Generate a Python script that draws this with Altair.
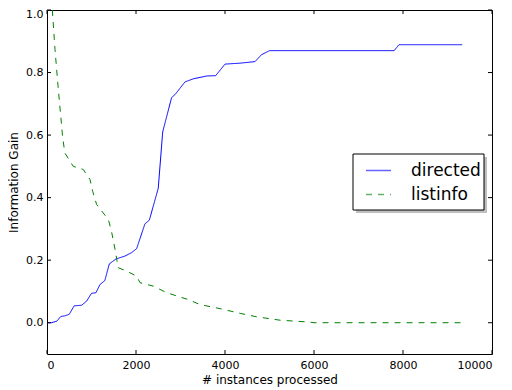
import altair as alt
import pandas as pd

directed_x = [0, 100, 220, 310, 400, 500, 610, 780, 890, 1000, 1100, 1190, 1300, 1400, 1550,
              1750, 1900, 2015, 2200, 2300, 2500, 2600, 2800, 2880, 3100, 3290, 3590, 3790,
              4000, 4340, 4675, 4820, 5000, 7800, 7910, 9330]
directed_y = [0.0, 0.0, 0.005, 0.02, 0.022, 0.027, 0.054, 0.056, 0.069, 0.094, 0.096, 0.122,
              0.135, 0.188, 0.204, 0.213, 0.224, 0.237, 0.316, 0.328, 0.43, 0.61, 0.72, 0.73,
              0.77, 0.78, 0.789, 0.79, 0.827, 0.83, 0.835, 0.857, 0.87, 0.87, 0.889, 0.889]

listinfo_x = [120, 180, 255, 350, 400, 590, 815, 966, 1027, 1115, 1230, 1380, 1455, 1530,
              1600, 1790, 2015, 2090, 2390, 2690, 3175, 3440, 3890, 4340, 4710, 5240, 5910,
              6000, 9330]
listinfo_y = [1.0, 0.873, 0.745, 0.596, 0.543, 0.50, 0.49, 0.458, 0.42, 0.378, 0.357, 0.33,
              0.288, 0.234, 0.176, 0.165, 0.149, 0.128, 0.117, 0.096, 0.074, 0.058, 0.045,
              0.03, 0.019, 0.008, 0.002, 0.0, 0.0]

series_names = ["directed", "listinfo"]
x_ticks = [0, 2000, 4000, 6000, 8000, 10000]
y_ticks = [0.0, 0.2, 0.4, 0.6, 0.8, 1.0]

W, H = 445, 344

df = pd.concat([
    pd.DataFrame({"x": directed_x, "y": directed_y, "series": series_names[0]}),
    pd.DataFrame({"x": listinfo_x, "y": listinfo_y, "series": series_names[1]}),
])

xscale = alt.Scale(domain=[0, 10000], nice=False, zero=False)
yscale = alt.Scale(domain=[-0.1, 1.0], nice=False, zero=False)

legend_kw = dict(title=None, orient="none", legendX=318, legendY=147,
                 symbolType="stroke", symbolSize=625, symbolStrokeWidth=1.5,
                 labelFontSize=17, labelFont="DejaVu Sans", labelColor="black",
                 padding=0, rowPadding=2, labelOffset=19, symbolOpacity=0.6)

lines = alt.Chart(df).mark_line(strokeWidth=1, clip=True).encode(
    x=alt.X("x:Q", scale=xscale,
            axis=alt.Axis(title="# instances processed", values=x_ticks, format="d",
                          grid=False, domain=False, ticks=False, labelPadding=5,
                          labelFontSize=11, titleFontSize=12, titleFontWeight="normal",
                          titlePadding=4, labelColor="black", titleColor="black",
                          labelFont="DejaVu Sans", titleFont="DejaVu Sans")),
    y=alt.Y("y:Q", scale=yscale,
            axis=alt.Axis(title="Information Gain", values=y_ticks, format=".1f",
                          grid=False, domain=False, ticks=False, labelPadding=4,
                          labelFlush=True, labelFlushOffset=2,
                          labelFontSize=11, titleFontSize=12, titleFontWeight="normal",
                          titlePadding=5, labelColor="black", titleColor="black",
                          labelFont="DejaVu Sans", titleFont="DejaVu Sans")),
    color=alt.Color("series:N", scale=alt.Scale(domain=series_names, range=["#0000ff", "#008000"]),
                    legend=alt.Legend(**legend_kw)),
    strokeDash=alt.StrokeDash("series:N",
                              scale=alt.Scale(domain=series_names, range=[[1, 0], [6, 6]]),
                              legend=alt.Legend(**legend_kw)),
)

xt = pd.DataFrame({"t": x_ticks})
yt = pd.DataFrame({"t": y_ticks})

xtick_top = alt.Chart(xt).mark_rule(color="black", strokeWidth=1).encode(
    x=alt.X("t:Q", scale=xscale), y=alt.value(0), y2=alt.value(4))
xtick_bot = alt.Chart(xt).mark_rule(color="black", strokeWidth=1).encode(
    x=alt.X("t:Q", scale=xscale), y=alt.value(H), y2=alt.value(H - 4))
ytick_left = alt.Chart(yt).mark_rule(color="black", strokeWidth=1).encode(
    y=alt.Y("t:Q", scale=yscale), x=alt.value(0), x2=alt.value(4))
ytick_right = alt.Chart(yt).mark_rule(color="black", strokeWidth=1).encode(
    y=alt.Y("t:Q", scale=yscale), x=alt.value(W), x2=alt.value(W - 4))

one = alt.Data(values=[{"a": 1}])
shadow = alt.Chart(one).mark_rect(color="#808080", opacity=0.5).encode(
    x=alt.value(309), x2=alt.value(440), y=alt.value(147), y2=alt.value(203))
box = alt.Chart(one).mark_rect(fill="white", stroke="black", strokeWidth=1).encode(
    x=alt.value(306), x2=alt.value(437), y=alt.value(144), y2=alt.value(200))

chart = alt.layer(shadow, box, lines, xtick_top, xtick_bot, ytick_left, ytick_right).properties(
    width=W, height=H,
    background="white",
    autosize=alt.AutoSizeParams(type="none"),
    padding={"left": 39, "top": 2, "right": 12, "bottom": 36},
).configure_view(stroke="black", strokeWidth=1)

chart.save("out.html", embed_options={"renderer": "svg", "actions": False})
